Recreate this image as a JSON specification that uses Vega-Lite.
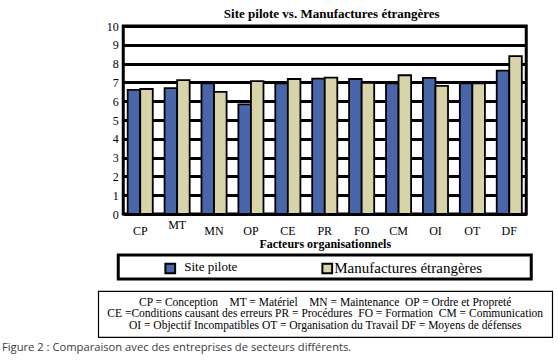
{
  "$schema": "https://vega.github.io/schema/vega-lite/v6.json",
  "background": "white",
  "padding": {"left": 2, "top": 6, "right": 2, "bottom": 2},
  "autosize": {"type": "pad"},
  "bounds": "full",
  "center": true,
  "spacing": 2,
  "title": {
    "text": "Figure 2 : Comparaison avec des entreprises de secteurs différents.",
    "orient": "bottom",
    "anchor": "start",
    "frame": "group",
    "font": "Open Sans",
    "fontSize": 11.2,
    "fontWeight": "normal",
    "color": "#3a3a3a",
    "offset": 4,
    "dx": -96
  },
  "config": {
    "font": "Liberation Serif",
    "axis": {"labelFont": "Liberation Serif", "titleFont": "Liberation Serif", "labelColor": "black", "titleColor": "black"}
  },
  "vconcat": [
    {
      "width": 403,
      "height": 188,
      "view": {"stroke": "black", "strokeWidth": 3},
      "title": {
        "text": "Site pilote vs. Manufactures étrangères",
        "font": "Liberation Serif",
        "fontSize": 13,
        "fontWeight": "bold",
        "color": "black",
        "offset": -1,
        "dx": 7
      },
      "data": {
        "values": [
          {"factor": "CP", "series": "Site pilote", "value": 6.6},
          {"factor": "CP", "series": "Manufactures étrangères", "value": 6.65},
          {"factor": "MT", "series": "Site pilote", "value": 6.7},
          {"factor": "MT", "series": "Manufactures étrangères", "value": 7.12},
          {"factor": "MN", "series": "Site pilote", "value": 6.95},
          {"factor": "MN", "series": "Manufactures étrangères", "value": 6.5},
          {"factor": "OP", "series": "Site pilote", "value": 5.83},
          {"factor": "OP", "series": "Manufactures étrangères", "value": 7.07},
          {"factor": "CE", "series": "Site pilote", "value": 6.95},
          {"factor": "CE", "series": "Manufactures étrangères", "value": 7.18},
          {"factor": "PR", "series": "Site pilote", "value": 7.2},
          {"factor": "PR", "series": "Manufactures étrangères", "value": 7.25},
          {"factor": "FO", "series": "Site pilote", "value": 7.18},
          {"factor": "FO", "series": "Manufactures étrangères", "value": 6.97},
          {"factor": "CM", "series": "Site pilote", "value": 6.95},
          {"factor": "CM", "series": "Manufactures étrangères", "value": 7.38},
          {"factor": "OI", "series": "Site pilote", "value": 7.24},
          {"factor": "OI", "series": "Manufactures étrangères", "value": 6.81},
          {"factor": "OT", "series": "Site pilote", "value": 6.95},
          {"factor": "OT", "series": "Manufactures étrangères", "value": 6.95},
          {"factor": "DF", "series": "Site pilote", "value": 7.63},
          {"factor": "DF", "series": "Manufactures étrangères", "value": 8.4}
        ]
      },
      "mark": {"type": "bar", "stroke": "black", "strokeWidth": 1.8},
      "encoding": {
        "x": {
          "field": "factor",
          "type": "nominal",
          "sort": ["CP", "MT", "MN", "OP", "CE", "PR", "FO", "CM", "OI", "OT", "DF"],
          "scale": {"paddingInner": 0.32, "paddingOuter": 0.12},
          "axis": {
            "title": "Facteurs organisationnels",
            "titleFontSize": 12,
            "titleFontWeight": "bold",
            "titlePadding": 2,
            "labelFontSize": 12,
            "labelAngle": 0,
            "ticks": false,
            "domain": false,
            "labelPadding": {"condition": {"test": "datum.value === 'MT'", "value": 5}, "value": 11}
          }
        },
        "xOffset": {"field": "series", "type": "nominal", "sort": ["Site pilote", "Manufactures étrangères"]},
        "y": {
          "field": "value",
          "type": "quantitative",
          "scale": {"domain": [0, 10], "nice": false},
          "axis": {
            "title": null,
            "values": [0, 1, 2, 3, 4, 5, 6, 7, 8, 9, 10],
            "labelFontSize": 12,
            "ticks": false,
            "domain": false,
            "labelPadding": 5,
            "grid": true,
            "gridColor": "black",
            "gridWidth": 3,
            "gridOpacity": 1
          }
        },
        "color": {
          "field": "series",
          "type": "nominal",
          "scale": {"domain": ["Site pilote", "Manufactures étrangères"], "range": ["#4A66AA", "#D8D3A8"]},
          "legend": null
        }
      }
    },
    {
      "width": 413,
      "height": 24,
      "view": {"stroke": "black", "strokeWidth": 3},
      "data": {
        "values": [
          {"series": "Site pilote"},
          {"series": "Manufactures étrangères"}
        ]
      },
      "encoding": {
        "x": {
          "field": "series",
          "type": "nominal",
          "sort": ["Site pilote", "Manufactures étrangères"],
          "scale": {"type": "point", "range": [52, 209], "padding": 0},
          "axis": {"labels": false, "ticks": true, "tickSize": 7, "tickOpacity": 0, "domain": false, "grid": false, "title": null}
        }
      },
      "layer": [
        {
          "mark": {"type": "square", "size": 95, "filled": true, "opacity": 1, "stroke": "black", "strokeWidth": 2, "yOffset": 1.5},
          "encoding": {
            "color": {"field": "series", "type": "nominal", "legend": null}
          }
        },
        {
          "transform": [{"filter": "datum.series === 'Site pilote'"}],
          "mark": {"type": "text", "align": "left", "baseline": "middle", "dx": 14, "fontSize": 13, "font": "Liberation Serif", "color": "black"},
          "encoding": {"text": {"field": "series"}}
        },
        {
          "transform": [{"filter": "datum.series === 'Manufactures étrangères'"}],
          "mark": {"type": "text", "align": "left", "baseline": "middle", "dx": 7, "dy": 1, "fontSize": 15, "font": "Liberation Serif", "color": "black"},
          "encoding": {"text": {"field": "series"}}
        }
      ]
    },
    {
      "width": 454,
      "height": 46,
      "view": {"stroke": "black", "strokeWidth": 1.2},
      "data": {
        "values": [
          {"line": 1, "text": "CP = Conception\u00a0\u00a0\u00a0 MT = Matériel\u00a0\u00a0\u00a0 MN = Maintenance\u00a0 OP = Ordre et Propreté"},
          {"line": 2, "text": "CE =Conditions causant des erreurs PR = Procédures\u00a0 FO = Formation\u00a0 CM = Communication"},
          {"line": 3, "text": "OI = Objectif Incompatibles OT = Organisation du Travail DF = Moyens de défenses"}
        ]
      },
      "mark": {"type": "text", "align": "center", "baseline": "middle", "font": "Liberation Serif", "fontSize": 11.5, "color": "black"},
      "encoding": {
        "y": {"field": "line", "type": "ordinal", "scale": {"type": "point", "padding": 1}, "axis": null},
        "text": {"field": "text"}
      }
    }
  ]
}
